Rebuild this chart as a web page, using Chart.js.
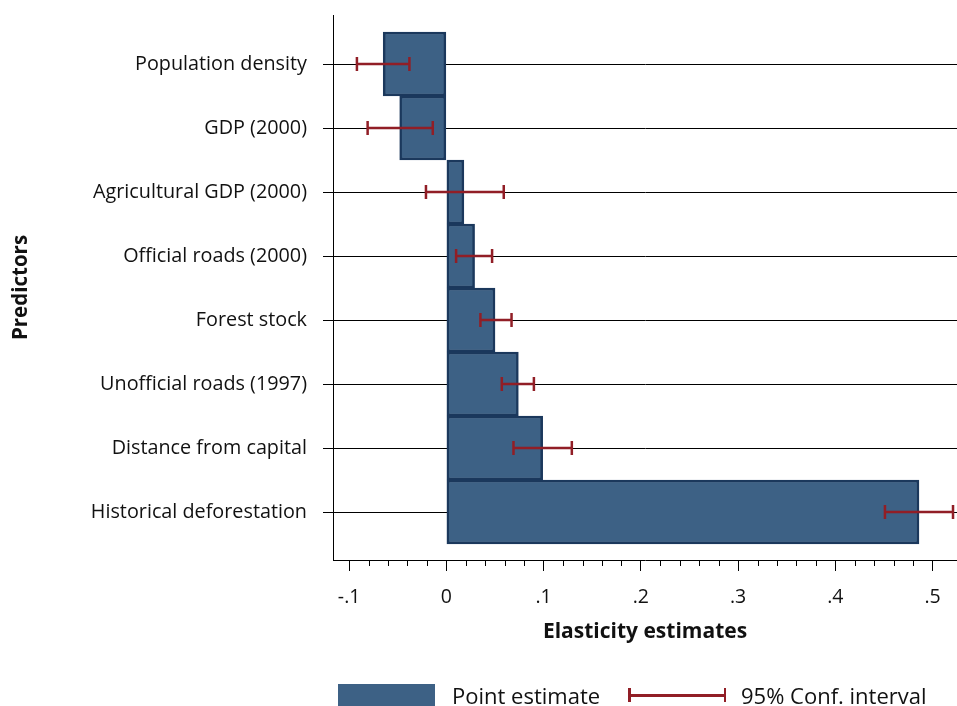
<!DOCTYPE html>
<html>
<head>
<meta charset="utf-8">
<script src="https://cdn.jsdelivr.net/npm/chart.js@4"></script>
<style>
  body { margin: 0; background: #fff; }
  #wrap { position: relative; width: 957px; height: 706px; overflow: hidden; font-family: "Open Sans", sans-serif; }
  .leg { position: absolute; font-size: 22px; color: #111; line-height: 22px; top: 684px; }
  .swatch { position: absolute; left: 338px; top: 684px; width: 97px; height: 22px; background: #3d6185; }
  .ci { position: absolute; left: 628px; top: 694px; width: 98px; height: 2.5px; background: #911e26; }
  .ci:before, .ci:after { content: ''; position: absolute; top: -6px; width: 2.5px; height: 14px; background: #911e26; }
  .ci:before { left: 0; }
  .ci:after { right: 0; }
</style>
</head>
<body>
<div id="wrap">
  <canvas id="chart" width="957" height="706"></canvas>
  <div class="swatch"></div>
  <div class="leg" style="left:452px">Point estimate</div>
  <div class="ci"></div>
  <div class="leg" style="left:741px">95% Conf. interval</div>
</div>
<script>
const categories = ['Population density', 'GDP (2000)', 'Agricultural GDP (2000)', 'Official roads (2000)',
  'Forest stock', 'Unofficial roads (1997)', 'Distance from capital', 'Historical deforestation']
const estimates = [-0.065, -0.048, 0.018, 0.029, 0.050, 0.074, 0.099, 0.486]
const ciLow = [-0.092, -0.081, -0.021, 0.010, 0.035, 0.057, 0.069, 0.451]
const ciHigh = [-0.038, -0.014, 0.059, 0.047, 0.067, 0.090, 0.129, 0.521]
const xTickValues = [-0.1, 0, 0.1, 0.2, 0.3, 0.4, 0.5]
const xTickLabels = ['-.1', '0', '.1', '.2', '.3', '.4', '.5']

const barFill = '#3d6185'
const barEdge = '#1b385c'
const ciColor = '#911e26'
const font = 'Open Sans'

// error bars + minor ticks on the x axis
const extras = {
  id: 'extras',
  afterDatasetsDraw(chart) {
    const ctx = chart.ctx
    const xs = chart.scales.x, ys = chart.scales.y
    ctx.save()
    ctx.strokeStyle = ciColor
    ctx.lineWidth = 2.5
    for (let i = 0; i < categories.length; i++) {
      const y = ys.getPixelForValue(i)
      const x1 = xs.getPixelForValue(ciLow[i])
      const x2 = xs.getPixelForValue(ciHigh[i])
      ctx.beginPath()
      ctx.moveTo(x1, y); ctx.lineTo(x2, y)
      ctx.moveTo(x1, y - 7); ctx.lineTo(x1, y + 7)
      ctx.moveTo(x2, y - 7); ctx.lineTo(x2, y + 7)
      ctx.stroke()
    }
    ctx.strokeStyle = '#000'
    ctx.lineWidth = 1
    const yb = chart.chartArea.bottom
    for (let k = -5; k <= 25; k++) {
      if (k % 5 === 0) continue
      const x = Math.round(xs.getPixelForValue(k * 0.02)) + 0.5
      ctx.beginPath()
      ctx.moveTo(x, yb); ctx.lineTo(x, yb + 6)
      ctx.stroke()
    }
    ctx.restore()
  }
}

const noPad = s => { s.paddingTop = 0; s.paddingBottom = 0; s.paddingLeft = 0; s.paddingRight = 0 }

new Chart(document.getElementById('chart'), {
  type: 'bar',
  data: {
    datasets: [{
      data: estimates.map((v, i) => ({ x: v, y: i })),
      backgroundColor: barFill,
      borderColor: barEdge,
      borderWidth: 2.5,
      borderSkipped: false,
      barPercentage: 1,
      categoryPercentage: 1
    }]
  },
  options: {
    indexAxis: 'y',
    responsive: false,
    animation: false,
    layout: { padding: { top: 15, right: 0, left: 0, bottom: 0 } },
    plugins: { legend: { display: false }, tooltip: { enabled: false } },
    scales: {
      y: {
        type: 'linear',
        reverse: true,
        offset: false,
        min: -0.766,
        max: 7.75,
        afterBuildTicks: s => { s.ticks = categories.map((c, i) => ({ value: i })) },
        afterFit: s => { s.width = 333; noPad(s) },
        ticks: {
          callback: v => categories[v],
          color: '#111',
          padding: 16,
          font: { family: font, size: 19.8 }
        },
        grid: { offset: false, color: '#000', lineWidth: 1, tickLength: 10 },
        border: { color: '#000', width: 1 },
        title: {
          display: true,
          text: 'Predictors',
          color: '#111',
          padding: { top: 9, bottom: 0 },
          font: { family: font, size: 20.5, weight: 'bold' }
        }
      },
      x: {
        type: 'linear',
        min: -0.1166,
        max: 0.5251,
        afterBuildTicks: s => { s.ticks = xTickValues.map(v => ({ value: v })) },
        afterFit: s => { s.height = 146; noPad(s) },
        ticks: {
          callback: (v, i) => xTickLabels[i],
          color: '#111',
          padding: 15,
          maxRotation: 0,
          font: { family: font, size: 19.5 }
        },
        grid: { drawOnChartArea: false, color: '#000', tickLength: 11 },
        border: { color: '#000', width: 1 },
        title: {
          display: true,
          text: 'Elasticity estimates',
          color: '#111',
          padding: { top: 0, bottom: 61 },
          font: { family: font, size: 21, weight: 'bold' }
        }
      }
    }
  },
  plugins: [extras]
})
</script>
</body>
</html>
